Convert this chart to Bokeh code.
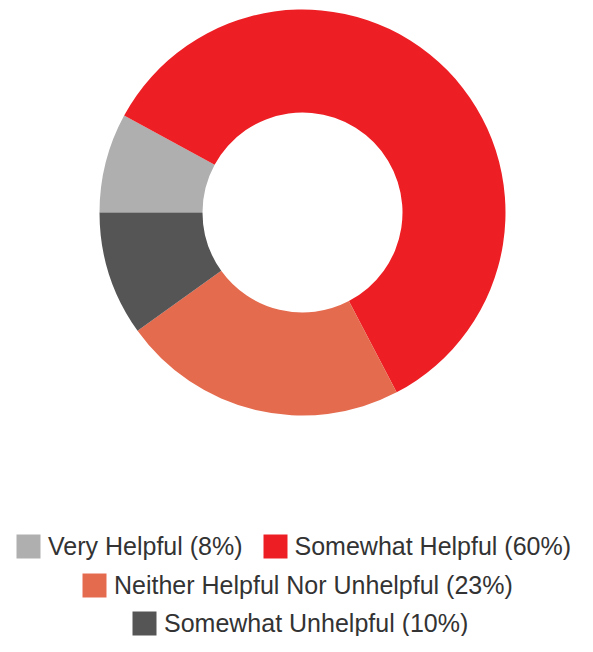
import math
from bokeh.plotting import figure
from bokeh.models import Range1d, Legend, LegendItem, ColumnDataSource
from bokeh.embed import file_html
from bokeh.resources import INLINE

categories = ["Very Helpful", "Somewhat Helpful", "Neither Helpful Nor Unhelpful", "Somewhat Unhelpful"]
values = [8, 60, 23, 10]
colors = ["#AEAFAE", "#ED1F24", "#E56B4E", "#555555"]
legend_rows = [[0, 1], [2], [3]]

W, H = 577, 636
p = figure(width=W, height=H, output_backend="svg", toolbar_location=None,
           x_range=Range1d(-302, 275), y_range=Range1d(-424, 212),
           min_border=0)
p.axis.visible = False
p.grid.visible = False
p.outline_line_color = None
p.background_fill_color = "white"
p.border_fill_color = "white"

total = sum(values)
renderers = []
cum = 0.0
for cat, v, c in zip(categories, values, colors):
    start = math.pi - 2 * math.pi * cum / total
    cum += v
    end = math.pi - 2 * math.pi * cum / total
    src = ColumnDataSource(dict(x=[0], y=[0], start=[start], end=[end]))
    r = p.annular_wedge(x="x", y="y", inner_radius=100, outer_radius=203,
                        start_angle="start", end_angle="end", direction="clock",
                        fill_color=c, line_color=None, source=src)
    renderers.append(r)

row_locs = [(13, 75), (79, 36), (129, -2)]
for row, loc in zip(legend_rows, row_locs):
    items = [LegendItem(label=f"{categories[i]} ({values[i]}%)", renderers=[renderers[i]]) for i in row]
    lg = Legend(items=items, orientation="horizontal", location=loc,
                glyph_width=30, glyph_height=30, label_height=30,
                label_standoff=5, spacing=17, padding=0, margin=0,
                border_line_color=None, background_fill_alpha=0,
                label_text_font="Liberation Sans", label_text_font_size="25px",
                label_text_color="#333333")
    p.add_layout(lg, "center")

open("out.html", "w").write(file_html(p, INLINE))
